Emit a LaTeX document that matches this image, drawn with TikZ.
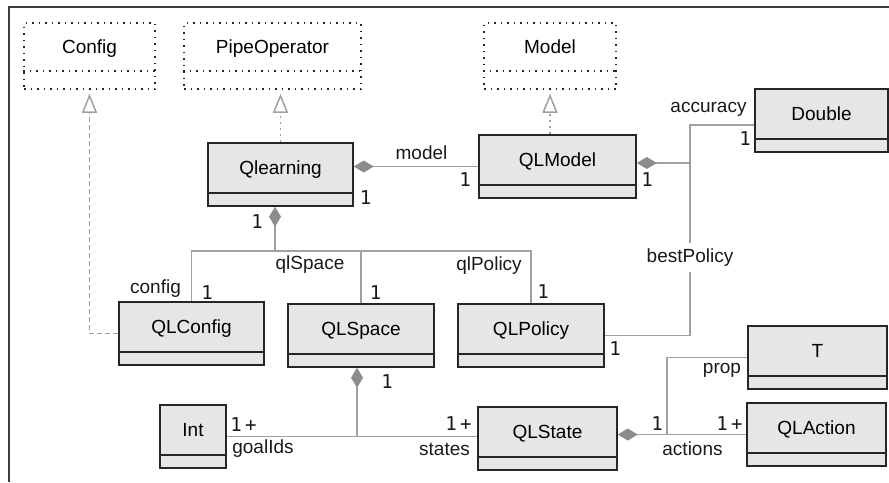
\documentclass[tikz,border=0pt]{standalone}
\usepackage{fontspec}
\setmainfont{Liberation Sans}
\newfontfamily\multfont[LetterSpace=18]{DejaVu Sans Mono}
\usetikzlibrary{arrows.meta,calc}
\definecolor{umlFill}{HTML}{E6E6E6}
\definecolor{umlBorder}{HTML}{262626}
\definecolor{umlLine}{HTML}{A0A0A0}
\definecolor{umlDiamond}{HTML}{8C8C8C}
\tikzset{
  classbox/.style={draw=umlBorder, fill=umlFill, line width=1.5pt, inner sep=0pt,
    text height=31pt, text depth=32pt, minimum width=#1},
  ifacebox/.style={draw=umlBorder, line width=1.5pt, dash pattern=on 1.5pt off 5pt,
    inner sep=0pt, text height=30pt, text depth=36pt, minimum width=#1},
  boxline/.style={draw=umlBorder, line width=1.5pt},
  assoc/.style={draw=umlLine, line width=1.4pt},
  compose/.style={assoc, -{Diamond[length=20pt, width=12pt, color=umlDiamond, fill=umlDiamond]}},
  realize/.style={assoc, -{Triangle[open, length=19pt, width=15pt, line width=1.5pt]}},
  role/.style={inner sep=0pt, text=black!90},
  mult/.style={inner sep=0pt, text=black!90, font=\multfont\fontsize{19}{22}\selectfont}
}
\begin{document}
\begin{tikzpicture}[x=1pt, y=-1pt, font=\fontsize{19}{22}\selectfont]
\useasboundingbox (0,0) rectangle (889,482);
% Frame (cut at right and bottom)
\draw[umlBorder!90, line width=2pt] (8.5,482) -- (8.5,6.5) -- (889,6.5);
% Interfaces
\node[ifacebox=131pt] (config) at (89.5,56) {Config};
\node[ifacebox=177pt] (pipeop) at (272.5,56) {PipeOperator};
\node[ifacebox=132pt] (model) at (550,56) {Model};
\foreach \n in {config,pipeop,model}
  \draw[boxline, dash pattern=on 1.5pt off 5pt] ([yshift=19pt]\n.south west) -- ([yshift=19pt]\n.south east);
% Classes
\node[classbox=145pt] (qlearning) at (280.5,174.5) {Qlearning};
\node[classbox=157pt] (qlmodel) at (557.5,166.5) {QLModel};
\node[classbox=133pt] (double) at (821.5,120.5) {Double};
\node[classbox=145pt] (qlconfig) at (191.5,333.5) {QLConfig};
\node[classbox=146pt] (qlspace) at (361,335.5) {QLSpace};
\node[classbox=146pt] (qlpolicy) at (531,335.5) {QLPolicy};
\node[classbox=139pt] (tprop) at (817.5,357.5) {T};
\node[classbox=139pt] (qlaction) at (816.5,434.5) {QLAction};
\node[classbox=139pt] (qlstate) at (547.5,438.5) {QLState};
\node[classbox=66pt] (int) at (193,436.5) {Int};
\foreach \n in {qlearning,qlmodel,double,qlconfig,qlspace,qlpolicy,tprop,qlaction,qlstate,int}
  \draw[boxline] ([yshift=14pt]\n.south west) -- ([yshift=14pt]\n.south east);
% Forks
\coordinate (qlfork) at (275,251);
\coordinate (qmfork) at (690,163);
\coordinate (qsfork) at (357,436);
\coordinate (qtfork) at (667,434);
% Realizations
\draw[realize, dash pattern=on 5pt off 3pt] (qlconfig.west) -| ($(config.south)+(0,4)$);
\draw[realize, dash pattern=on 2pt off 4pt] (qlearning.north) -- ($(qlearning.north |- pipeop.south)+(0,4)$);
\draw[realize, dash pattern=on 2pt off 4pt] (qlmodel.north -| model.south) -- ($(model.south)+(0,4)$);
% Compositions and associations
\draw[compose] (qlmodel.west) -- (qlmodel.west -| qlearning.east);
\draw[compose] (qmfork) -- (qmfork -| qlmodel.east);
\draw[assoc] ($(double.west)+(0,4.5)$) -| (qmfork) |- (qlpolicy.east);
\draw[compose] (qlfork) -- (qlfork |- qlearning.south);
\draw[assoc] (qlconfig.north) |- (qlpolicy.north |- qlfork) -- (qlpolicy.north);
\draw[assoc] (qlspace.north) -- (qlspace.north |- qlfork);
\draw[compose] (qsfork) -- (qsfork |- qlspace.south);
\draw[assoc] (int.east) -- (int.east -| qlstate.west);
\draw[compose] (qlaction.west) -- (qlaction.west -| qlstate.east);
\draw[assoc] (tprop.west) -| (qtfork);
% Role names
\node[role] (rmodel) at (421.5,153) {model};
\node[role] (raccuracy) at (708.5,109.5) {accuracy};
\node[role, fill=white, minimum height=29pt] (rbest) at (690,257.5) {bestPolicy};
\node[role] (rqlspace) at (310,264.5) {qlSpace};
\node[role] (rconfig) at (155.5,289) {config};
\node[role] (rqlpolicy) at (489,265.5) {qlPolicy};
\node[role] (rgoal) at (263,448.5) {goalIds};
\node[role] (rstates) at (444.5,449.5) {states};
\node[role] (rprop) at (722,370.5) {prop};
\node[role] (ractions) at (692.5,448.5) {actions};
% Multiplicities
\node[mult] (mqlearnA) at (365.5,198) {1};
\node[mult] (mqlmodelA) at (465,180) {1};
\node[mult] (mqlmodelB) at (647,180) {1};
\node[mult] (mdouble) at (745,138.5) {1};
\node[mult] (mqlearnB) at (257,222) {1};
\node[mult] (mqlconfig) at (207,292.5) {1};
\node[mult] (mqlspaceA) at (375.5,292.5) {1};
\node[mult] (mqlpolicyA) at (543,291.5) {1};
\node[mult] (mqlpolicyB) at (615,348.5) {1};
\node[mult] (mqlspaceB) at (387,381.5) {1};
\node[mult] (mint) at (243.5,425) {1+};
\node[mult] (mqlstateA) at (458.5,424) {1+};
\node[mult] (mqlstateB) at (657,424) {1};
\node[mult] (mqlaction) at (729.5,424) {1+};
\end{tikzpicture}
\end{document}
